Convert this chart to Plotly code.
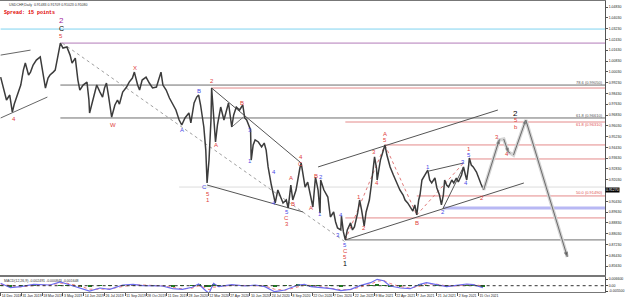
import plotly.graph_objects as go

# ---------------- data ----------------
bars = [0,5,9,14,18,21,26,31,35,38,43,46,50,55,61,64,69,73,76,81,84,87,92,96,102,107,110,115,119,122,
        127,133,136,137,142,148,153,157,160,163,166,171,176,180,183,188,194,198,203,206,211,214,218,224,229,
        234,240,244,247,250,255,260,264,270,275,279,284,290,293,298,302,305,308,313,316,318,321,324,325,328,
        331,334,339,344,348,351,356,359,363,368,373,376,379,382,385,386,389,392,397,402,406,409,412,417,420,
        423,427,432,435,440,443,447,450,455,458,461,463,466,469,473,476,481,485,489,492,493,498,504,508,513,
        516,519,524,525,528,531,534,539,542,545,550,553,556,560,563,568,571,576,579,580,585,589,592,595,600,
        605,608,612,615,620,623,627,631,635,638,641,644,646,649,653,658,661,664,669,672,676,679,682,684,687,
        690,695,698,702,705,710,713,716,718,721,722,725,728,733,737,740,744]
close = [0.9964,0.9868,0.9794,0.9831,0.9705,0.9764,0.9831,0.9905,1.0016,1.0068,0.9979,1.0001,1.0053,1.0090,
         1.0113,1.0016,0.9883,0.9957,0.9979,1.0001,1.0016,1.0090,1.0216,1.0179,1.0187,1.0127,1.0068,1.0105,
         0.9942,0.9868,0.9905,0.9927,0.9794,0.9698,0.9794,0.9905,0.9853,0.9816,0.9883,0.9920,0.9831,0.9668,
         0.9757,0.9794,0.9764,0.9853,0.9890,0.9927,0.9957,1.0001,0.9905,0.9868,0.9942,0.9964,0.9920,0.9883,
         0.9890,0.9957,1.0001,0.9905,0.9868,0.9809,0.9772,0.9720,0.9646,0.9609,0.9661,0.9698,0.9624,0.9772,
         0.9816,0.9831,0.9757,0.9594,0.9423,0.9179,0.9349,0.9646,0.9883,0.9683,0.9483,0.9609,0.9742,0.9646,
         0.9720,0.9772,0.9594,0.9683,0.9742,0.9720,0.9757,0.9661,0.9646,0.9609,0.9572,0.9349,0.9461,0.9498,
         0.9483,0.9446,0.9475,0.9423,0.9298,0.9164,0.9105,0.9031,0.9127,0.9068,0.9031,0.9053,0.8994,0.9164,
         0.9053,0.9127,0.9216,0.9290,0.9327,0.9238,0.9149,0.9186,0.9105,0.9001,0.9223,0.9127,0.8957,0.9201,
         0.9127,0.9075,0.8927,0.8964,0.8890,0.8846,0.8831,0.8934,0.8816,0.8757,0.8831,0.8883,0.8831,0.8853,
         0.8957,0.9053,0.8979,0.8860,0.8964,0.9053,0.9164,0.9372,0.9290,0.9201,0.9349,0.9409,0.9461,0.9386,
         0.9298,0.9238,0.9201,0.9164,0.9127,0.9090,0.9053,0.9031,0.9001,0.8971,0.9016,0.8942,0.9053,0.9090,
         0.9201,0.9238,0.9275,0.9201,0.9179,0.9216,0.9142,0.9090,0.9016,0.9090,0.9201,0.9164,0.9149,0.9201,
         0.9179,0.9216,0.9186,0.9238,0.9298,0.9238,0.9201,0.9312,0.9364,0.9312,0.9298,0.9260,0.9201,0.9172,
         0.9127]

# projected path
proj_bars = [744, 768, 775, 782, 790, 809, 873]
proj_price = [0.9127, 0.9498, 0.9505, 0.9409, 0.9386, 0.9646, 0.8631]

# MACD panel
macd_bars = [0,15,31,51,76,92,102,122,137,153,168,188,204,219,234,249,265,280,295,305,316,321,328,336,356,
             377,392,407,422,438,458,468,478,489,509,524,539,555,570,580,590,600,616,631,646,656,672,687,
             702,718,728,738,743]
macd_main = [0.0024,-0.0020,-0.0010,0.0014,0.0007,0.0037,0.0017,-0.0026,-0.0053,-0.0023,-0.0036,0.0007,
             0.0014,0.0000,-0.0003,-0.0003,-0.0030,-0.0036,-0.0016,0.0017,-0.0050,-0.0076,0.0024,-0.0010,
             0.0010,-0.0003,0.0007,-0.0010,-0.0060,-0.0043,0.0007,0.0014,-0.0010,-0.0016,-0.0030,-0.0050,
             -0.0036,0.0003,0.0030,0.0064,0.0050,-0.0003,-0.0023,-0.0030,0.0014,0.0030,0.0007,-0.0010,
             0.0003,0.0017,0.0010,-0.0010,-0.0020]
macd_signal = [0.0015,0.0000,-0.0012,0.0002,0.0008,0.0025,0.0025,-0.0005,-0.0035,-0.0035,-0.0032,-0.0008,
               0.0008,0.0007,0.0000,-0.0002,-0.0018,-0.0032,-0.0025,-0.0002,-0.0020,-0.0040,-0.0015,-0.0008,
               0.0004,0.0002,0.0003,-0.0003,-0.0035,-0.0045,-0.0012,0.0006,0.0002,-0.0008,-0.0022,-0.0040,
               -0.0040,-0.0015,0.0015,0.0045,0.0052,0.0022,-0.0010,-0.0025,-0.0005,0.0018,0.0015,-0.0002,
               -0.0002,0.0010,0.0012,0.0002,-0.0006]
macd_hist = [0.0004,-0.0008,0.0001,0.0005,0.0000,0.0005,-0.0003,-0.0008,-0.0007,0.0005,-0.0002,0.0006,
             0.0002,-0.0003,-0.0001,0.0000,-0.0005,-0.0002,0.0004,0.0008,-0.0012,-0.0014,0.0016,-0.0001,
             0.0002,-0.0002,0.0002,-0.0003,-0.0010,0.0001,0.0008,0.0003,-0.0005,-0.0003,-0.0003,-0.0004,
             0.0002,0.0007,0.0006,0.0008,-0.0001,-0.0010,-0.0005,-0.0002,0.0008,0.0005,-0.0003,-0.0003,
             0.0002,0.0003,-0.0001,-0.0005,-0.0006]

# horizontal levels
level_price = [1.0320, 1.0216, 0.9905, 0.9883, 0.9661, 0.9631, 0.9461, 0.9357, 0.9149, 0.9083, 0.8994, 0.8920, 0.8757]
level_start = [0, 92, 92, 325, 92, 531, 592, 722, 275, 641, 682, 531, 531]
level_color = ["#7fd3f0", "#b27ab8", "#6e6e6e", "#e48a8a", "#6e6e6e", "#e48a8a", "#e48a8a", "#e48a8a",
               "#dcdcdc", "#e48a8a", "#b8b8f4", "#e48a8a", "#6e6e6e"]
level_width = [1, 1, 1, 1, 1, 1, 1, 1, 1, 1, 3, 1, 1]

fib_text = ["78.6 (0.99050)", "61.8 (0.96610)", "61.8 (0.96310)", "50.0 (0.91490)"]
fib_price = [0.9927, 0.9683, 0.9616, 0.9105]
fib_color = ["#555555", "#555555", "#e05050", "#e05050"]

# trend lines: (bar0, price0, bar1, price1, colour, dash)
trend_lines = [
    (0, 1.0127, 46, 1.0164, "#666666", "solid"),
    (0, 0.9661, 72, 0.9816, "#666666", "solid"),
    (95, 1.0216, 531, 0.8742, "#a0a0a0", "dot"),
    (318, 0.9164, 466, 0.8964, "#555555", "solid"),
    (325, 0.9883, 463, 0.9327, "#555555", "solid"),
    (356, 0.9594, 374, 0.9668, "#777777", "solid"),
    (531, 0.8757, 806, 0.9179, "#555555", "solid"),
    (489, 0.9298, 766, 0.9720, "#555555", "solid"),
    (681, 0.8986, 713, 0.9298, "#555555", "solid"),
    (660, 0.9268, 713, 0.9327, "#555555", "solid"),
    (531, 0.8757, 592, 0.9461, "#e07a7a", "dot"),
    (592, 0.9461, 641, 0.8942, "#e07a7a", "dot"),
    (641, 0.8942, 713, 0.9327, "#e07a7a", "dot"),
]

y_ticks = [1.0483, 1.0403, 1.0323, 1.0243, 1.0163, 1.0083, 1.0003, 0.9923, 0.9843, 0.9763, 0.9683,
           0.9603, 0.9523, 0.9443, 0.9363, 0.9283, 0.9203, 0.9043, 0.8963, 0.8883, 0.8803,
           0.8723, 0.8643, 0.8563]
date_ticks = [0, 32, 64, 96, 128, 160, 192, 224, 256, 288, 320, 352, 384, 416, 448, 480, 512, 544,
              576, 608, 640, 672, 704, 736]
date_labels = ["14 Dec 2018", "31 Jan 2019", "18 Mar 2019", "3 May 2019", "14 Jun 2019", "26 Jul 2019",
               "11 Sep 2019", "28 Oct 2019", "11 Dec 2019", "28 Jan 2020", "12 Mar 2020", "27 Apr 2020",
               "10 Jun 2020", "24 Jul 2020", "8 Sep 2020", "22 Oct 2020", "7 Dec 2020", "22 Jan 2021",
               "9 Mar 2021", "22 Apr 2021", "7 Jun 2021", "21 Jul 2021", "2 Sep 2021", "15 Oct 2021"]
last_price = 0.9127

# ---------------- geometry helpers for text placement ----------------
W, H = 625, 301
ML, MR, MT, MB = 0, 15, 1, 9
PW, PH = W - ML - MR, H - MT - MB
X_MAX = 931
Y_TOP, Y_BOT = 1.0528, 0.8497
MAIN_BOT_PX = 275

def bx(px):
    return px * X_MAX / PW

def py(px):
    return Y_TOP - (px - MT) * (Y_TOP - Y_BOT) / (MAIN_BOT_PX - MT)

RED, BLUE, BLACK, PURPLE = "#e0403c", "#4a4ae6", "#000000", "#a0249c"
wave_labels = [
    (61, 20, "2", PURPLE, 8), (61, 28, "C", BLACK, 7), (61, 36, "5", RED, 6),
    (13, 119, "4", RED, 6), (113, 125, "W", RED, 6), (136, 68, "X", RED, 6),
    (183, 130, "A", BLUE, 6), (200, 91, "B", BLUE, 6),
    (206, 187, "C", BLUE, 6), (209, 194, "5", RED, 6), (209, 200, "1", RED, 6),
    (213, 81, "2", RED, 6), (217, 145, "A", RED, 6), (244, 103, "B", RED, 6),
    (252, 130, "3", BLUE, 6), (252, 161, "1", BLUE, 6),
    (276, 172, "4", BLUE, 6), (276, 203, "4", BLUE, 6),
    (289, 212, "5", BLUE, 6), (289, 218, "C", RED, 6), (289, 224, "3", RED, 6),
    (293, 178, "A", RED, 6), (295, 204, "B", RED, 6), (303, 157, "4", RED, 6), (303, 164, "C", RED, 6),
    (313, 208, "A", RED, 6), (318, 176, "B", RED, 6), (322, 214, "1", BLUE, 6), (323, 177, "2", BLUE, 6),
    (340, 235, "3", BLUE, 6), (344, 215, "4", BLUE, 6),
    (348, 245, "5", BLUE, 6), (348, 251, "C", RED, 6), (348, 257, "5", RED, 6), (348, 263, "1", BLACK, 7),
    (362, 197, "1", RED, 6), (367, 228, "2", RED, 6), (377, 152, "3", RED, 6), (380, 183, "4", RED, 6),
    (388, 134, "A", RED, 6), (388, 140, "5", RED, 6), (420, 223, "B", RED, 6),
    (431, 167, "1", BLUE, 6), (446, 212, "2", BLUE, 6), (467, 162, "3", BLUE, 6), (470, 183, "4", BLUE, 6),
    (473, 149, "1", RED, 6), (473, 155, "5", BLUE, 6), (486, 198, "2", RED, 6),
    (501, 137, "3", RED, 6), (511, 154, "4", RED, 6),
    (520, 113, "2", BLACK, 8), (520, 120, "5", RED, 6), (520, 127, "b", RED, 6),
]

fig = go.Figure()

for p, s, c, w in zip(level_price, level_start, level_color, level_width):
    fig.add_shape(type="line", xref="x", yref="y", x0=s, x1=X_MAX, y0=p, y1=p,
                  line=dict(color=c, width=w), layer="below")

for b0, p0, b1, p1, c, d in trend_lines:
    fig.add_shape(type="line", xref="x", yref="y", x0=b0, y0=p0, x1=b1, y1=p1,
                  line=dict(color=c, width=1, dash=d), layer="below")

fig.add_trace(go.Scatter(x=bars, y=close, mode="lines", line=dict(color="#3c3c3c", width=1.5),
                         xaxis="x", yaxis="y", showlegend=False, hoverinfo="skip"))

fig.add_trace(go.Scatter(x=proj_bars, y=proj_price, mode="lines", line=dict(color="#d4d4d4", width=3.5),
                         xaxis="x", yaxis="y", showlegend=False, hoverinfo="skip"))
fig.add_trace(go.Scatter(x=proj_bars, y=proj_price, mode="lines+markers",
                         line=dict(color="#6a6a6a", width=1),
                         marker=dict(symbol="arrow", size=[0, 4, 0, 4, 0, 4, 5], angleref="previous",
                                     color="#333333"),
                         xaxis="x", yaxis="y", showlegend=False, hoverinfo="skip"))

fig.add_trace(go.Bar(x=macd_bars, y=macd_hist, marker=dict(color="#1f7a1f", line=dict(width=0)),
                     width=6, xaxis="x2", yaxis="y2", showlegend=False, hoverinfo="skip"))
fig.add_trace(go.Scatter(x=macd_bars, y=macd_signal, mode="lines",
                         line=dict(color="#f07878", width=1, dash="dot"),
                         xaxis="x2", yaxis="y2", showlegend=False, hoverinfo="skip"))
fig.add_trace(go.Scatter(x=macd_bars, y=macd_main, mode="lines", line=dict(color="#6c6cf0", width=1.2),
                         xaxis="x2", yaxis="y2", showlegend=False, hoverinfo="skip"))
fig.add_shape(type="line", xref="x2", yref="y2", x0=0, x1=X_MAX, y0=0, y1=0,
              line=dict(color="#333333", width=1, dash="dot"))

for xp, ypx, t, c, s in wave_labels:
    fig.add_annotation(x=bx(xp), y=py(ypx), xref="x", yref="y", text=t, showarrow=False,
                       font=dict(family="Liberation Sans", size=s, color=c))

for t, p, c in zip(fib_text, fib_price, fib_color):
    fig.add_annotation(x=X_MAX, y=p, xref="x", yref="y", text=t, showarrow=False, xanchor="right",
                       font=dict(family="Liberation Sans", size=4, color=c))

fig.add_annotation(x=0.012, y=1.0, xref="paper", yref="paper", yanchor="top", xanchor="left",
                   text="USDCHF,Daily  0.91483 0.91709 0.91023 0.91080", showarrow=False,
                   font=dict(family="Liberation Sans", size=3.5, color="#333333"))
fig.add_annotation(x=0.003, y=0.975, xref="paper", yref="paper", yanchor="top", xanchor="left",
                   text="<b>Spread: 15 points</b>", showarrow=False,
                   font=dict(family="Liberation Mono", size=5, color="#e00000"))
fig.add_annotation(x=0.003, y=0.052, xref="paper", yref="paper", yanchor="top", xanchor="left",
                   text="MACD(12,26,9) -0.002491 -0.000843 -0.001648", showarrow=False,
                   font=dict(family="Liberation Sans", size=3.5, color="#333333"))

fig.add_annotation(x=1.0, y=last_price, xref="paper", yref="y", xanchor="left", text="0.91270",
                   showarrow=False, bgcolor="#000000", borderpad=0,
                   font=dict(family="Liberation Sans", size=3.5, color="#ffffff"))

main_bottom = (H - MB - MAIN_BOT_PX) / PH
macd_top = (H - MB - 277) / PH

fig.update_layout(
    width=W, height=H, margin=dict(l=ML, r=MR, t=MT, b=MB),
    paper_bgcolor="#ffffff", plot_bgcolor="#ffffff", bargap=0,
    xaxis=dict(domain=[0, 1], anchor="y", range=[-1, X_MAX], showticklabels=False, showgrid=False,
               zeroline=False, showline=True, mirror=True, linecolor="#777777", linewidth=1),
    yaxis=dict(domain=[main_bottom, 1], side="right", range=[Y_BOT, Y_TOP], tickvals=y_ticks,
               ticktext=[f"{v:.5f}" for v in y_ticks], tickfont=dict(family="Liberation Sans", size=3.5,
               color="#222222"), ticks="outside", ticklen=2, tickcolor="#555555", showgrid=False,
               zeroline=False, showline=True, linecolor="#555555", linewidth=1),
    xaxis2=dict(domain=[0, 1], anchor="y2", range=[-1, X_MAX], tickvals=date_ticks, ticktext=date_labels,
                tickangle=0, ticklabelposition="outside right",
                tickfont=dict(family="Liberation Sans", size=3.5, color="#222222"), ticks="outside",
                ticklen=3, tickcolor="#555555", showgrid=False,
                zeroline=False, showline=True, mirror=True, linecolor="#777777", linewidth=1),
    yaxis2=dict(domain=[0, macd_top], side="right", range=[-0.0063, 0.0087],
                tickvals=[0.0066, 0, -0.0055], ticktext=["0.006600", "0.00", "-0.005500"],
                tickfont=dict(family="Liberation Sans", size=3.5, color="#222222"), ticks="outside",
                ticklen=2, showgrid=False, zeroline=False, showline=True, linecolor="#555555"),
)

fig.write_html("out.html")
